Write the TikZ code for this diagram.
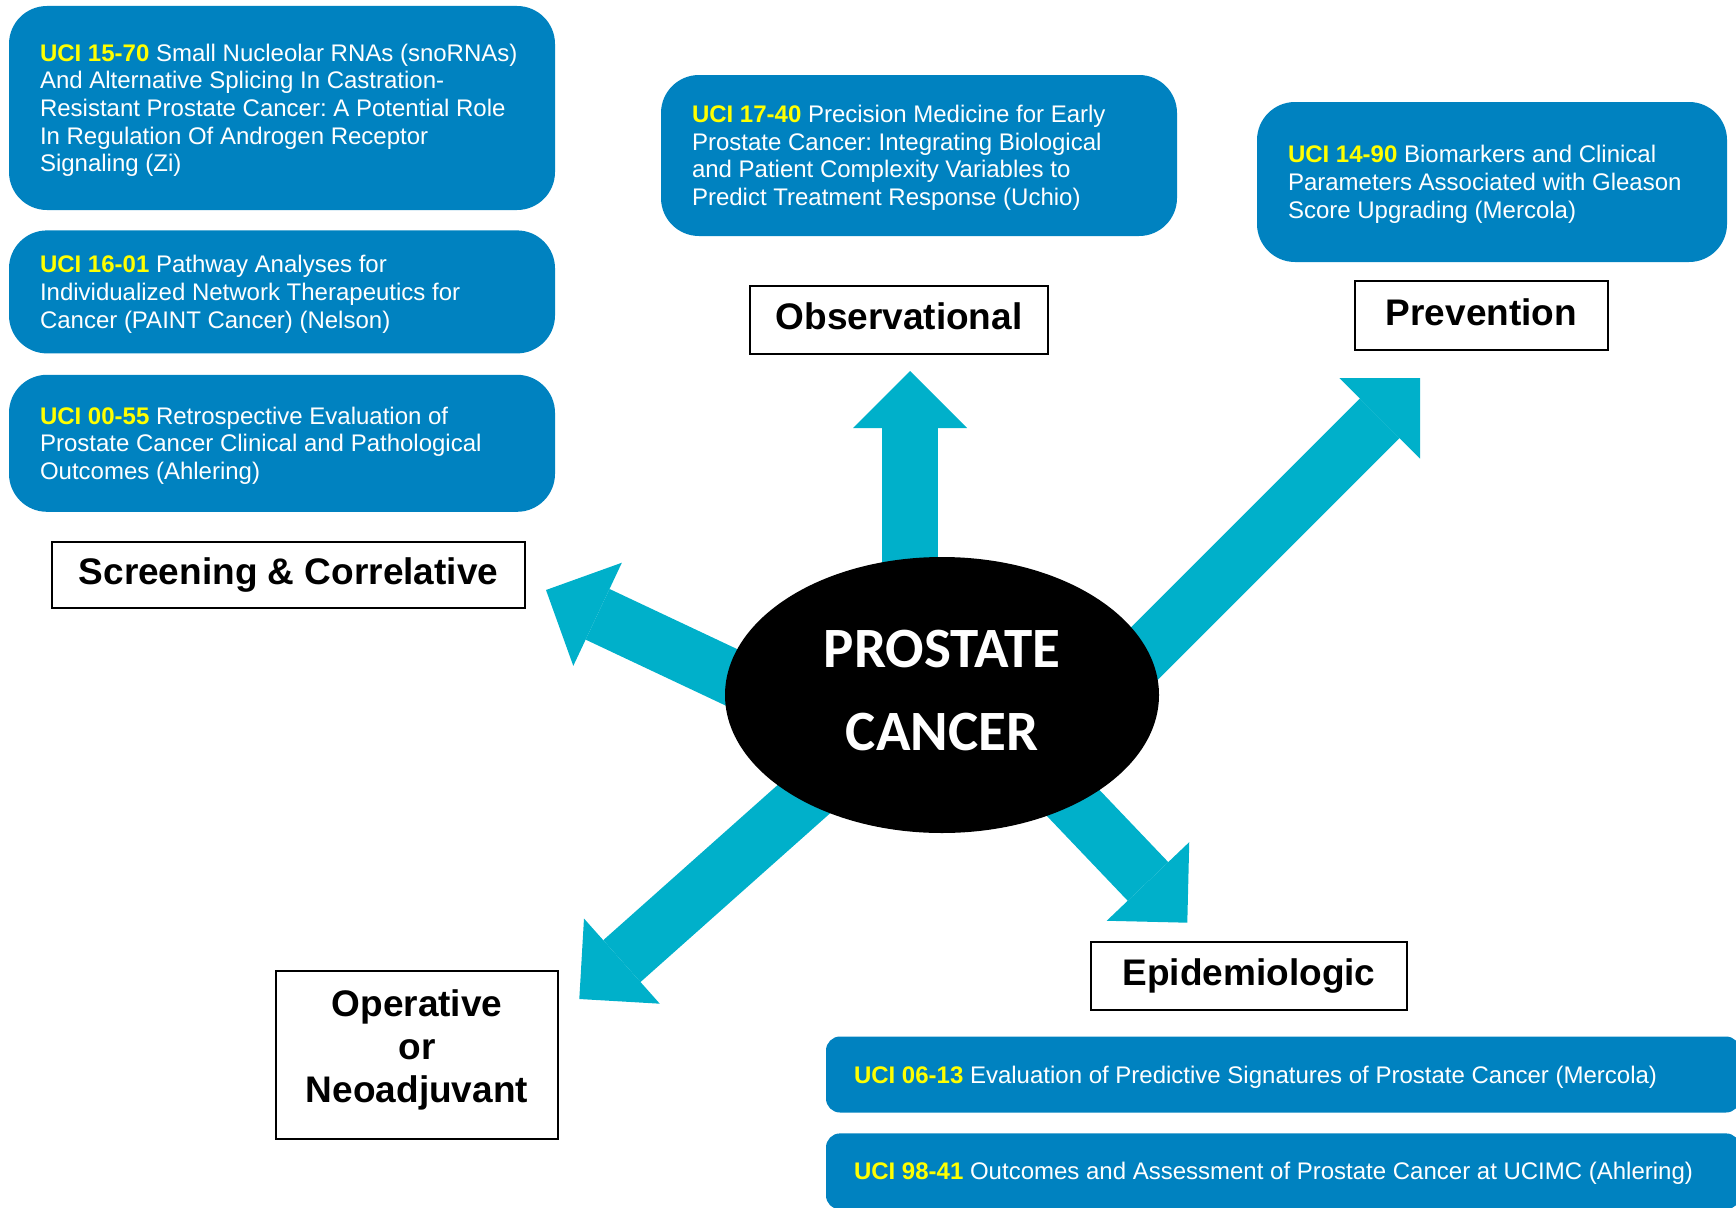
\documentclass[tikz,border=0pt]{standalone}
\usepackage{fontspec}
\setmainfont{Liberation Sans}
\newfontfamily\calibri{Carlito}
\usetikzlibrary{positioning,arrows.meta,shapes.geometric}
\pgfdeclarelayer{background}
\pgfsetlayers{background,main}
\definecolor{boxblue}{RGB}{0,130,192}
\definecolor{arrowblue}{RGB}{0,176,202}
\definecolor{uciyellow}{RGB}{255,255,0}
\newcommand{\uci}[1]{\rule{0pt}{22pt}\textcolor{uciyellow}{\bfseries UCI #1}}
\frenchspacing

\begin{document}
\begin{tikzpicture}[
  x=1pt, y=-1pt,
  study/.style={fill=boxblue, text=white, rounded corners=38pt, inner xsep=31pt,
    align=flush left, font=\fontsize{24}{27.6}\selectfont,
    execute at begin node={\spaceskip=0pt\xspaceskip=0pt}},
  wide/.style={rounded corners=14pt, inner xsep=28pt, text width=858pt,
    minimum height=76pt},
  cat/.style={draw=black, line width=2pt, fill=white, inner sep=0pt, align=center,
    font=\fontsize{37}{43}\selectfont\bfseries},
  oneline/.style={text height=27pt, text depth=8pt},
  fat/.style={line width=56pt, arrowblue,
    -{Triangle[length=57pt,width=114pt,line width=0pt]}}
  ]

  \useasboundingbox (0,0) rectangle (1736,1207);
  \clip (0,0) rectangle (1736,1207);

  % screening column
  \node (snorna) [study, text width=484pt, minimum height=204pt] at (282,108)
    {\uci{15-70} Small Nucleolar RNAs (snoRNAs)\\
     And Alternative Splicing In Castration-\\
     Resistant Prostate Cancer: A Potential Role\\
     In Regulation Of Androgen Receptor\\
     Signaling (Zi)};
  \node (paint) [study, text width=484pt, minimum height=123pt, below=20pt of snorna]
    {\uci{16-01} Pathway Analyses for\\
     Individualized Network Therapeutics for\\
     Cancer (PAINT Cancer) (Nelson)};
  \node (retro) [study, text width=484pt, minimum height=137pt, below=21pt of paint]
    {\uci{00-55} Retrospective Evaluation of\\
     Prostate Cancer Clinical and Pathological\\
     Outcomes (Ahlering)};
  \node (scr) [cat, oneline, minimum width=473pt, minimum height=66pt,
    below=29pt of retro, xshift=6.5pt] {Screening \& Correlative};

  % observational
  \node (prec) [study, text width=454pt, minimum height=161pt] at (919,155.5)
    {\uci{17-40} Precision Medicine for Early\\
     Prostate Cancer: Integrating Biological\\
     and Patient Complexity Variables to\\
     Predict Treatment Response (Uchio)};
  \node (obs) [cat, oneline, minimum width=298pt, minimum height=68pt,
    below=49pt of prec, xshift=-20pt] {Observational};

  % prevention
  \node (gleason) [study, text width=408pt, minimum height=160pt] at (1492,182)
    {\uci{14-90} Biomarkers and Clinical\\
     Parameters Associated with Gleason\\
     Score Upgrading (Mercola)};
  \node (prev) [cat, oneline, minimum width=253pt, minimum height=69pt,
    below=18pt of gleason, xshift=-10.5pt] {Prevention};

  % operative / epidemiologic
  \node (op) [cat, minimum width=282pt, minimum height=168pt] at (417,1055)
    {Operative\\or\\Neoadjuvant\rule[-18pt]{0pt}{1pt}};
  \node (epi) [cat, oneline, minimum width=316pt, minimum height=68pt] at (1249,976)
    {Epidemiologic};
  \node (sig) [study, wide] at (1283,1074.5)
    {\uci{06-13} Evaluation of Predictive Signatures of Prostate Cancer (Mercola)};
  \node (ucimc) [study, wide, below=20.5pt of sig]
    {\uci{98-41} Outcomes and Assessment of Prostate Cancer at UCIMC (Ahlering)};

  \node (pc) [ellipse, fill=black, text=white, minimum width=434pt, minimum height=276pt,
    inner sep=0pt, align=center, font=\calibri\fontsize{57}{83}\selectfont\bfseries]
    at (942,695) {PROSTATE\\CANCER\rule[-10pt]{0pt}{1pt}};

  \coordinate (obsbase) at (910,640);
  \coordinate (obstip) at (910,371);
  \coordinate (prevbase) at (1090,708);
  \coordinate (prevtip) at (1420,378);
  \coordinate (scrbase) at (926,769);
  \coordinate (scrtip) at (546,590);
  \coordinate (opbase) at (915.5,699.8);
  \coordinate (optip) at (579.3,999);
  \coordinate (epibase) at (980.3,705.5);
  \coordinate (epitip) at (1187.3,922.7);

  \begin{pgfonlayer}{background}
  \draw [fat] (obsbase) -- (obstip);
  \draw [fat] (prevbase) -- (prevtip);
  \draw [fat] (scrbase) -- (scrtip);
  \draw [fat] (opbase) -- (optip);
  \draw [fat] (epibase) -- (epitip);
  \end{pgfonlayer}
\end{tikzpicture}
\end{document}
